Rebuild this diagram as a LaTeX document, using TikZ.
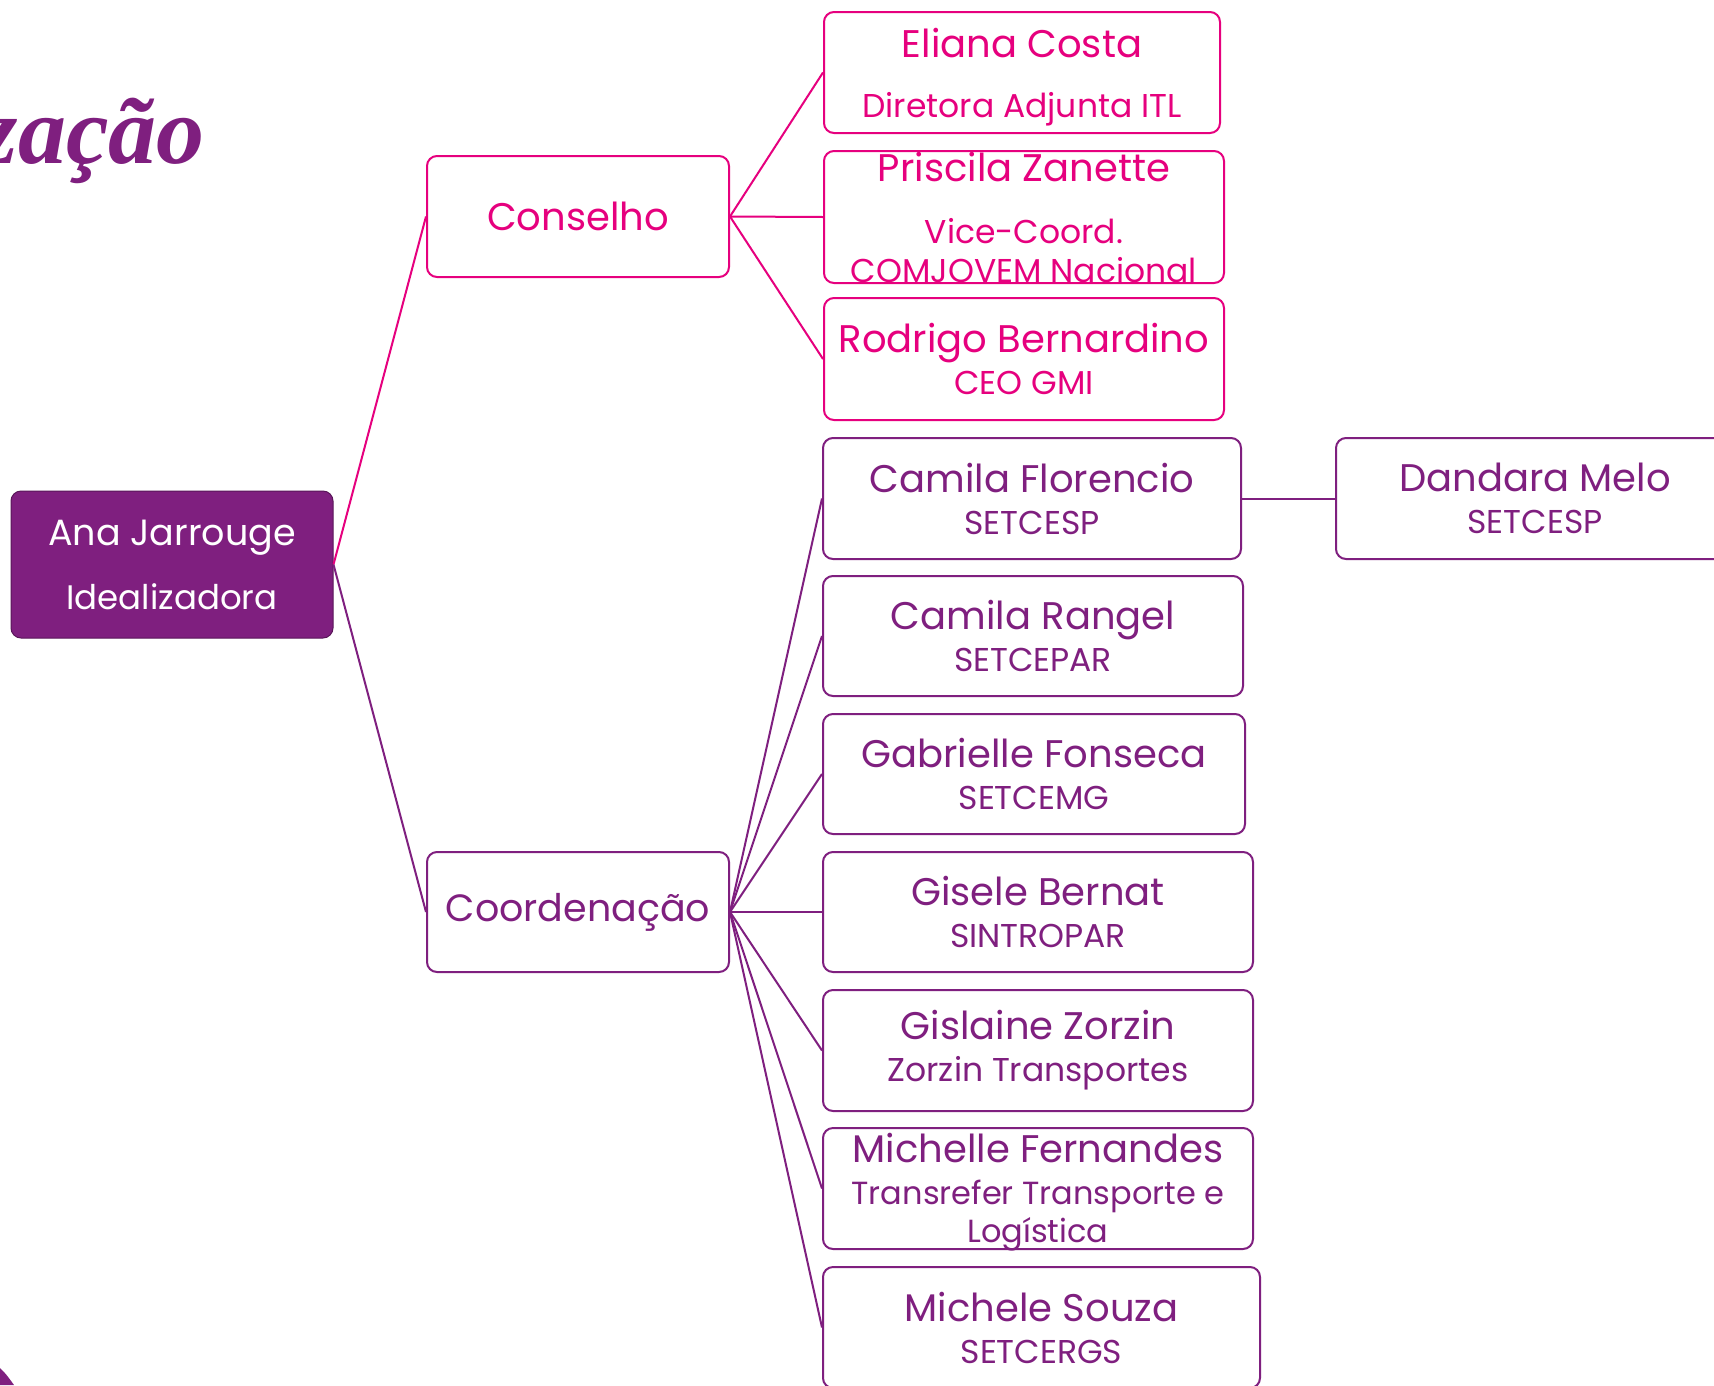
\documentclass[tikz,border=0pt]{standalone}
\usepackage{fontspec}
\setmainfont{Poppins}
\newfontfamily\titlefont{Liberation Serif}
\definecolor{purp}{HTML}{7F1F7F}
\definecolor{pinkc}{HTML}{E6007E}
\newcommand\nm{\fontsize{38.5}{42}\selectfont}
\newcommand\sbt{\fontsize{33}{42}\selectfont}
\tikzset{
  basebox/.style={line width=2pt, rounded corners=10pt, align=center, inner sep=0pt, font=\fontsize{33}{42}\selectfont},
  pbox/.style={basebox, draw=pinkc, text=pinkc},
  vbox/.style={basebox, draw=purp, text=purp},
  boxtext/.style={align=center, inner sep=0pt, font=\fontsize{33}{42}\selectfont},
  pline/.style={draw=pinkc, line width=2pt},
  vline/.style={draw=purp, line width=2pt},
}
\begin{document}
\begin{tikzpicture}[x=1pt,y=-1pt]
\useasboundingbox (0,0) rectangle (1714,1385);
\clip (0,0) rectangle (1714,1385);
\fill[white] (0,0) rectangle (1714,1385);
% title fragment
\node[anchor=base east, text=purp, inner sep=0pt, font=\titlefont\bfseries\itshape\fontsize{96}{100}\selectfont] (title) at (205,163) {zação};
\fill[purp] (0,1368) .. controls (6,1374) .. (14,1385) -- (0,1385) -- cycle;
% root
\node[basebox, fill=purp, draw=purp!70!black, line width=1pt, text=white, minimum width=322pt, minimum height=147pt] (ana) at (172,564.5) {\fontsize{36.5}{42}\selectfont Ana Jarrouge\\[22pt]\fontsize{34}{42}\selectfont Idealizadora};
% level 1
\node[pbox, minimum width=302pt, minimum height=121pt] (cons) at (578,216.5) {\nm Conselho};
\node[vbox, minimum width=302pt, minimum height=120pt] (coord) at (578,912) {\fontsize{38}{42}\selectfont Coordenação};
% conselho children
\node[pbox, minimum width=396pt, minimum height=121pt] (eli) at (1022,72.5) {};
\node[boxtext, text=pinkc] (elitext) at ([yshift=-5pt]eli.center) {\nm Eliana Costa\\[18pt]\sbt Diretora Adjunta ITL};
\node[pbox, minimum width=400pt, minimum height=132pt] (pri) at (1024,217) {\nm Priscila Zanette\\[20pt]\sbt Vice-Coord.\\[-3pt]\sbt COMJOVEM Nacional};
\node[pbox, minimum width=400pt, minimum height=122pt] (rod) at (1024,359) {\nm Rodrigo Bernardino\\\sbt CEO GMI};
% coordenacao children
\node[vbox, minimum width=418pt, minimum height=121pt] (camf) at (1032,498.5) {\nm Camila Florencio\\\sbt SETCESP};
\node[vbox, minimum width=398pt, minimum height=121pt] (dan) at (1535,498.5) {\nm Dandara Melo\\\sbt SETCESP};
\node[vbox, minimum width=420pt, minimum height=120pt] (camr) at (1033,636) {\nm Camila Rangel\\\sbt SETCEPAR};
\node[vbox, minimum width=422pt, minimum height=120pt] (gab) at (1034,774) {\nm Gabrielle Fonseca\\\sbt SETCEMG};
\node[vbox, minimum width=430pt, minimum height=120pt] (gis) at (1038,912) {\nm Gisele Bernat\\\sbt SINTROPAR};
\node[vbox, minimum width=430pt, minimum height=121pt] (gisl) at (1038,1050.5) {\nm Gislaine Zorzin\\\sbt Zorzin Transportes};
\node[vbox, minimum width=430pt, minimum height=121pt] (mich) at (1038,1188.5) {};
\node[boxtext, text=purp] (michtext) at ([yshift=-4pt]mich.center) {\nm Michelle Fernandes\\\fontsize{32}{42}\selectfont Transrefer Transporte e\\[-4pt]\fontsize{32}{42}\selectfont Logística};
\node[vbox, minimum width=437pt, minimum height=121pt] (mics) at (1041.5,1327.5) {\nm Michele Souza\\\sbt SETCERGS};
% connectors
\draw[pline] (ana.east) -- (cons.west);
\draw[vline] (ana.east) -- (coord.west);
\foreach \t in {eli,pri,rod} \draw[pline] (cons.east) -- (\t.west);
\foreach \t in {camf,camr,gab,gis,gisl,mich,mics} \draw[vline] (coord.east) -- (\t.west);
\draw[vline] (camf.east) -- (dan.west);
\end{tikzpicture}
\end{document}
